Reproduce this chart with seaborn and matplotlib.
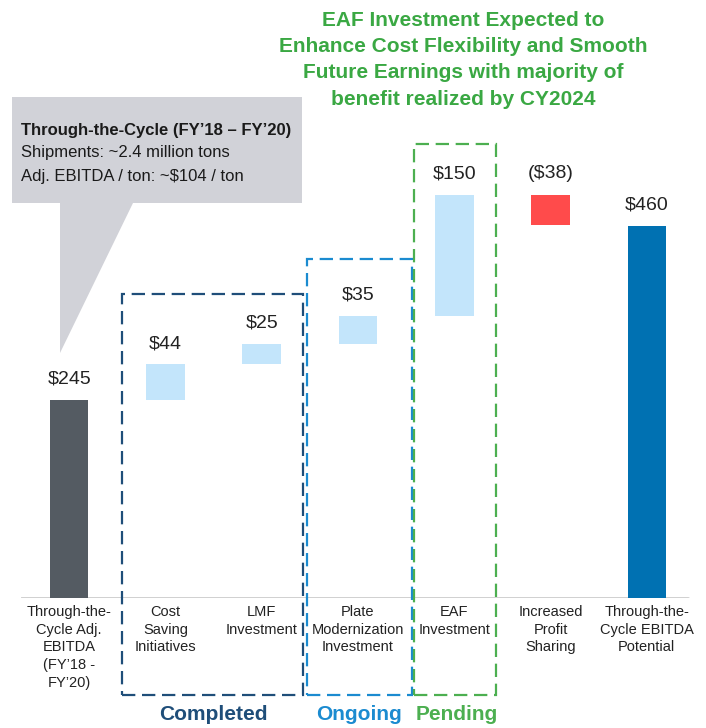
import numpy as np
import pandas as pd
import matplotlib
matplotlib.use("Agg")
import matplotlib.pyplot as plt
from matplotlib.patches import Rectangle, Polygon
import seaborn as sns

# ---- data ----
categories = ["Through-the-\nCycle Adj.\nEBITDA\n(FY\u201918 -\nFY\u201920)",
              "Cost\nSaving\nInitiatives",
              "LMF\nInvestment",
              "Plate\nModernization\nInvestment",
              "EAF\nInvestment",
              "Increased\nProfit\nSharing",
              "Through-the-\nCycle EBITDA\nPotential"]
values = [245, 44, 25, 35, 150, -38, 460]
kinds = ["total", "delta", "delta", "delta", "delta", "delta", "total"]
value_labels = ["$245", "$44", "$25", "$35", "$150", "($38)", "$460"]
bar_colors = ["#545b62", "#c3e5fb", "#c3e5fb", "#c3e5fb", "#c3e5fb", "#ff4b4b", "#0071b2"]

title_lines = "EAF Investment Expected to\nEnhance Cost Flexibility and Smooth\nFuture Earnings with majority of\nbenefit realized by CY2024"
callout_title = "Through-the-Cycle (FY\u201918 \u2013 FY\u201920)"
callout_lines = ["Shipments: ~2.4 million tons", "Adj. EBITDA / ton: ~$104 / ton"]
group_names = ["Completed", "Ongoing", "Pending"]
group_colors = ["#1f4e79", "#1b8bd0", "#4caf50"]

# ---- waterfall geometry from values ----
bottoms, heights, tops = [], [], []
running = 0
for v, k in zip(values, kinds):
    if k == "total":
        bottoms.append(0); heights.append(v); running = v
    else:
        bottoms.append(min(running, running + v)); heights.append(abs(v)); running += v
    tops.append(bottoms[-1] + heights[-1])

df = pd.DataFrame({"cat": categories, "height": heights, "bottom": bottoms})

sns.set_theme(style="white")
plt.rcParams["font.family"] = ["Liberation Sans", "DejaVu Sans"]

W, H = 706, 728
fig = plt.figure(figsize=(W / 100, H / 100), dpi=100)
ax = fig.add_axes([21 / W, 130 / H, 674 / W, 598 / H])

sns.barplot(data=df, x="cat", y="height", order=categories, color=bar_colors[1],
            saturation=1, width=0.4, errorbar=None, bottom=df["bottom"].values,
            linewidth=0, ax=ax)
for p, c in zip(ax.patches, bar_colors):
    p.set_facecolor(c)

ax.set_xlim(-0.5, 6.5)
ax.set_ylim(0, 740)
for s in ax.spines.values():
    s.set_visible(False)
ax.set_yticks([])
ax.set_xlabel(""); ax.set_ylabel("")
ax.tick_params(axis="x", length=0, pad=5, labelsize=10.5, labelcolor="#222222")
for lab in ax.get_xticklabels():
    lab.set_linespacing(1.34)
ax.axhline(0, xmin=0, xmax=0.99, color="#cccccc", lw=2, zorder=0)

for i, (t, lbl) in enumerate(zip(tops, value_labels)):
    ax.annotate(lbl, (i, t), xytext=(0, 15), textcoords="offset points",
                ha="center", va="center", fontsize=14, color="#222222")

# ---- decorations in pixel coords ----
def P(x, y):
    return (x / W, 1 - y / H)

callout_color = "#d1d2d8"
fig.patches.append(Polygon([P(12, 97), P(302, 97), P(302, 203), P(133, 203), P(60, 353),
                            P(60, 203), P(12, 203)], closed=True, transform=fig.transFigure,
                           facecolor=callout_color, edgecolor="none", zorder=0))
fig.text(*P(21, 130), callout_title, fontsize=12, fontweight="bold", color="#1a1a1a",
         va="center", ha="left")
for j, line in enumerate(callout_lines):
    fig.text(*P(21, 153 + 23 * j), line, fontsize=12, color="#1a1a1a", va="center", ha="left")

boxes = [(122, 294, 303), (307, 259, 412), (414, 144, 496)]
label_x = [213, 359, 457]
for (x0, y0, x1), name, col, lx in zip(boxes, group_names, group_colors, label_x):
    r = Rectangle(P(x0, 695), (x1 - x0) / W, (695 - y0) / H, transform=fig.transFigure,
                  fill=False, edgecolor=col, lw=1.6, linestyle=(0, (6, 3)), zorder=5)
    fig.patches.append(r)
    fig.text(*P(lx, 715), name, fontsize=15, fontweight="bold", color=col,
             ha="center", va="center")

fig.text(*P(463, 11), title_lines, fontsize=15, fontweight="bold", color="#3aa843",
         ha="center", va="top", linespacing=1.48)

fig.savefig("out.png", dpi=100, facecolor="white")
